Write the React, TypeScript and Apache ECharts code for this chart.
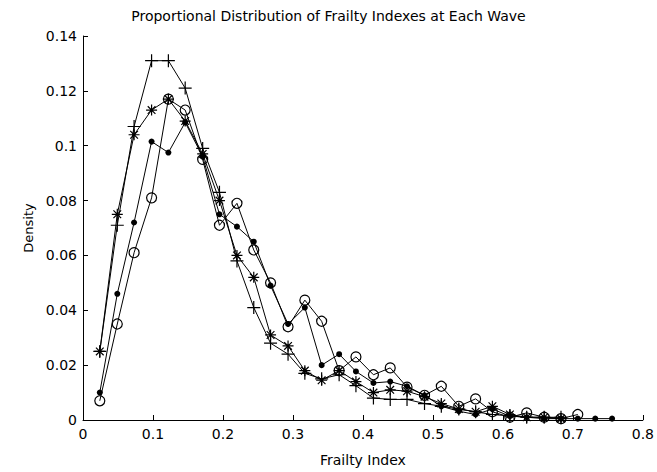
import React, { useEffect, useRef } from "react";
import * as echarts from "echarts";

// Frailty index bins (k/41)
const frailtyIndex: number[] = [
  0.024, 0.049, 0.073, 0.098, 0.122, 0.146, 0.171, 0.195, 0.220, 0.244,
  0.268, 0.293, 0.317, 0.341, 0.366, 0.390, 0.415, 0.439, 0.463, 0.488,
  0.512, 0.537, 0.561, 0.585, 0.610, 0.634, 0.659, 0.683, 0.707, 0.732, 0.756,
];

const wavePlus: number[] = [
  0.025, 0.071, 0.107, 0.131, 0.131, 0.121, 0.099, 0.083, 0.058, 0.041,
  0.028, 0.024, 0.017, 0.015, 0.0165, 0.0125, 0.008, 0.0075, 0.0075, 0.006,
  0.005, 0.004, 0.003, 0.002, 0.0015, 0.001, 0.001, 0.001,
];

const waveStar: number[] = [
  0.025, 0.075, 0.104, 0.113, 0.117, 0.109, 0.097, 0.080, 0.060, 0.052,
  0.031, 0.027, 0.018, 0.0145, 0.018, 0.014, 0.010, 0.011, 0.0105, 0.0085,
  0.006, 0.004, 0.003, 0.005, 0.002, 0.001, 0.001, 0.0005,
];

const waveDot: number[] = [
  0.010, 0.046, 0.072, 0.1015, 0.0975, 0.1085, 0.096, 0.075, 0.0705, 0.065,
  0.049, 0.035, 0.041, 0.020, 0.024, 0.0177, 0.0135, 0.014, 0.0123, 0.009,
  0.005, 0.0032, 0.002, 0.004, 0.0014, 0.001, 0.0005, 0.0005, 0.0005, 0.0005, 0.0005,
];

const waveCircle: number[] = [
  0.007, 0.035, 0.061, 0.081, 0.117, 0.113, 0.095, 0.071, 0.079, 0.062,
  0.050, 0.034, 0.0437, 0.036, 0.018, 0.023, 0.0165, 0.019, 0.012, 0.009,
  0.0123, 0.005, 0.0077, 0.003, 0.001, 0.0026, 0.001, 0.0005, 0.002,
];

const FONT = "DejaVu Sans";

const pairs = (ys: number[]) => ys.map((y, i) => [frailtyIndex[i], y]);

export default function App() {
  const ref = useRef<HTMLDivElement>(null);
  useEffect(() => {
    if (!ref.current) return;
    const chart = echarts.init(ref.current, null, { renderer: "svg" });
    const baseSeries = (data: number[], symbol: string, size: number, filled: boolean) => ({
      type: "line",
      data: pairs(data),
      symbol,
      symbolSize: size,
      showSymbol: true,
      lineStyle: { color: "#000", width: 1 },
      itemStyle: filled
        ? { color: "#000", borderColor: "#000", borderWidth: 0 }
        : { color: "none", borderColor: "#000", borderWidth: 1.2 },
      emphasis: { disabled: true },
      z: 2,
    });
    chart.setOption({
      animation: false,
      backgroundColor: "#fff",
      title: {
        text: "Proportional Distribution of Frailty Indexes at Each Wave",
        left: "center",
        top: 4,
        textStyle: { fontFamily: FONT, fontSize: 14, fontWeight: "normal", color: "#000" },
      },
      grid: { left: 83, right: 11, top: 36, bottom: 48, containLabel: false },
      xAxis: {
        type: "value",
        min: 0,
        max: 0.8,
        interval: 0.1,
        name: "Frailty Index",
        nameLocation: "middle",
        nameGap: 33,
        nameTextStyle: { fontFamily: FONT, fontSize: 14, color: "#000" },
        axisLine: { lineStyle: { color: "#000", width: 1 } },
        axisTick: { inside: true, length: 5, lineStyle: { color: "#000" } },
        axisLabel: {
          margin: 7,
          fontFamily: FONT,
          fontSize: 14,
          color: "#000",
          formatter: (v: number) => String(+v.toFixed(2)),
        },
        splitLine: { show: false },
      },
      yAxis: {
        type: "value",
        min: 0,
        max: 0.14,
        interval: 0.02,
        name: "Density",
        nameLocation: "middle",
        nameGap: 46,
        nameTextStyle: { fontFamily: FONT, fontSize: 13, color: "#000" },
        axisLine: { show: true, lineStyle: { color: "#000", width: 1 } },
        axisTick: { show: true, inside: true, length: 5, lineStyle: { color: "#000" } },
        axisLabel: {
          margin: 6,
          fontFamily: FONT,
          fontSize: 14,
          color: "#000",
          formatter: (v: number) => String(+v.toFixed(2)),
        },
        splitLine: { show: false },
      },
      series: [
        baseSeries(wavePlus, "path://M0,-6L0,6M-6,0L6,0", 13, false),
        baseSeries(waveStar, "path://M0,-6L0,6M-6,0L6,0M-4.2,-4.2L4.2,4.2M-4.2,4.2L4.2,-4.2", 11, false),
        baseSeries(waveDot, "circle", 6, true),
        baseSeries(waveCircle, "circle", 10, false),
      ],
    });
    return () => chart.dispose();
  }, []);
  return (
    <div
      ref={ref}
      style={{ position: "fixed", left: 0, top: 0, width: 657, height: 472, background: "#fff" }}
    />
  );
}
